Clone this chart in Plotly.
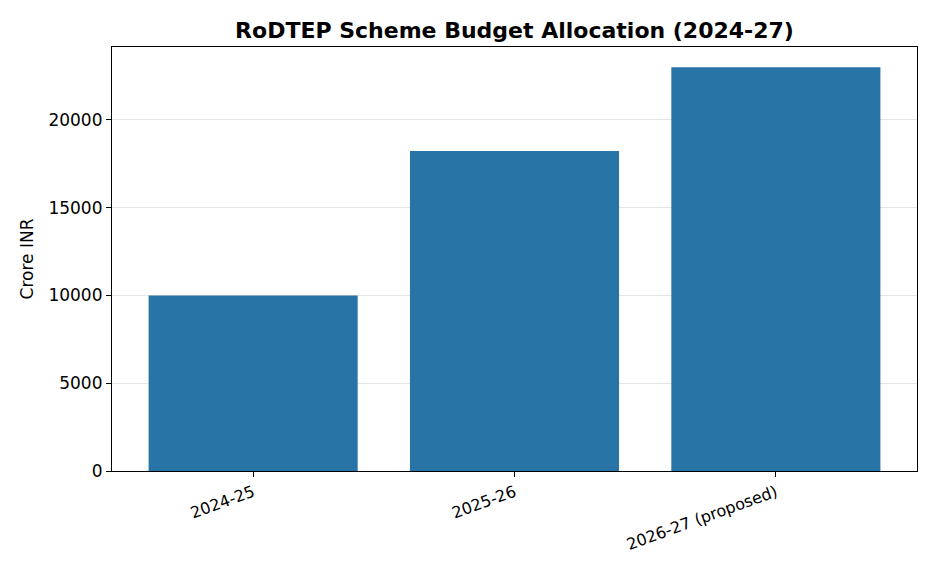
import plotly.graph_objects as go

# Budget data (crore INR)
years = ["2024-25", "2025-26", "2026-27 (proposed)"]
allocation = [10000, 18233, 23000]
y_ticks = [0, 5000, 10000, 15000, 20000]
y_tick_labels = ["0", "5000", "10000", "15000", "20000"]

# page body has an 8px margin, so shift everything back by that
off = 8

fig = go.Figure()

fig.add_trace(go.Bar(
    x=years,
    y=allocation,
    marker=dict(color="#2874a6", line=dict(width=0)),
    width=0.8,
))

axis_font = dict(family="DejaVu Sans", size=17, color="black")

fig.update_layout(
    width=936,
    height=572,
    margin=dict(l=112 - off, r=936 - (917 - off), t=47 - off, b=572 - (471 - off)),
    paper_bgcolor="white",
    plot_bgcolor="white",
    showlegend=False,
    title=dict(
        text="<b>RoDTEP Scheme Budget Allocation (2024-27)</b>",
        x=((112 + 917) / 2 - off) / 936,
        xanchor="center",
        y=1 - (30 - off) / 572,
        yanchor="middle",
        font=dict(family="DejaVu Sans", size=22, color="black"),
    ),
    xaxis=dict(
        range=[-0.54, 2.54],
        tickangle=-20,
        tickfont=dict(family="DejaVu Sans", size=16, color="black"),
        ticks="outside",
        ticklen=5,
        tickcolor="black",
        showline=True,
        linecolor="black",
        linewidth=1.2,
        mirror=True,
        showgrid=False,
    ),
    yaxis=dict(
        range=[0, 24150],
        tickvals=y_ticks,
        ticktext=y_tick_labels,
        tickfont=axis_font,
        ticks="outside",
        ticklen=5,
        tickcolor="black",
        showline=True,
        linecolor="black",
        linewidth=1.2,
        mirror=True,
        showgrid=True,
        gridcolor="rgba(190,190,190,0.4)",
        gridwidth=1,
        zeroline=False,
        layer="above traces",
        title=dict(text="Crore INR", font=axis_font, standoff=10),
    ),
)

fig.write_html("out.html")
